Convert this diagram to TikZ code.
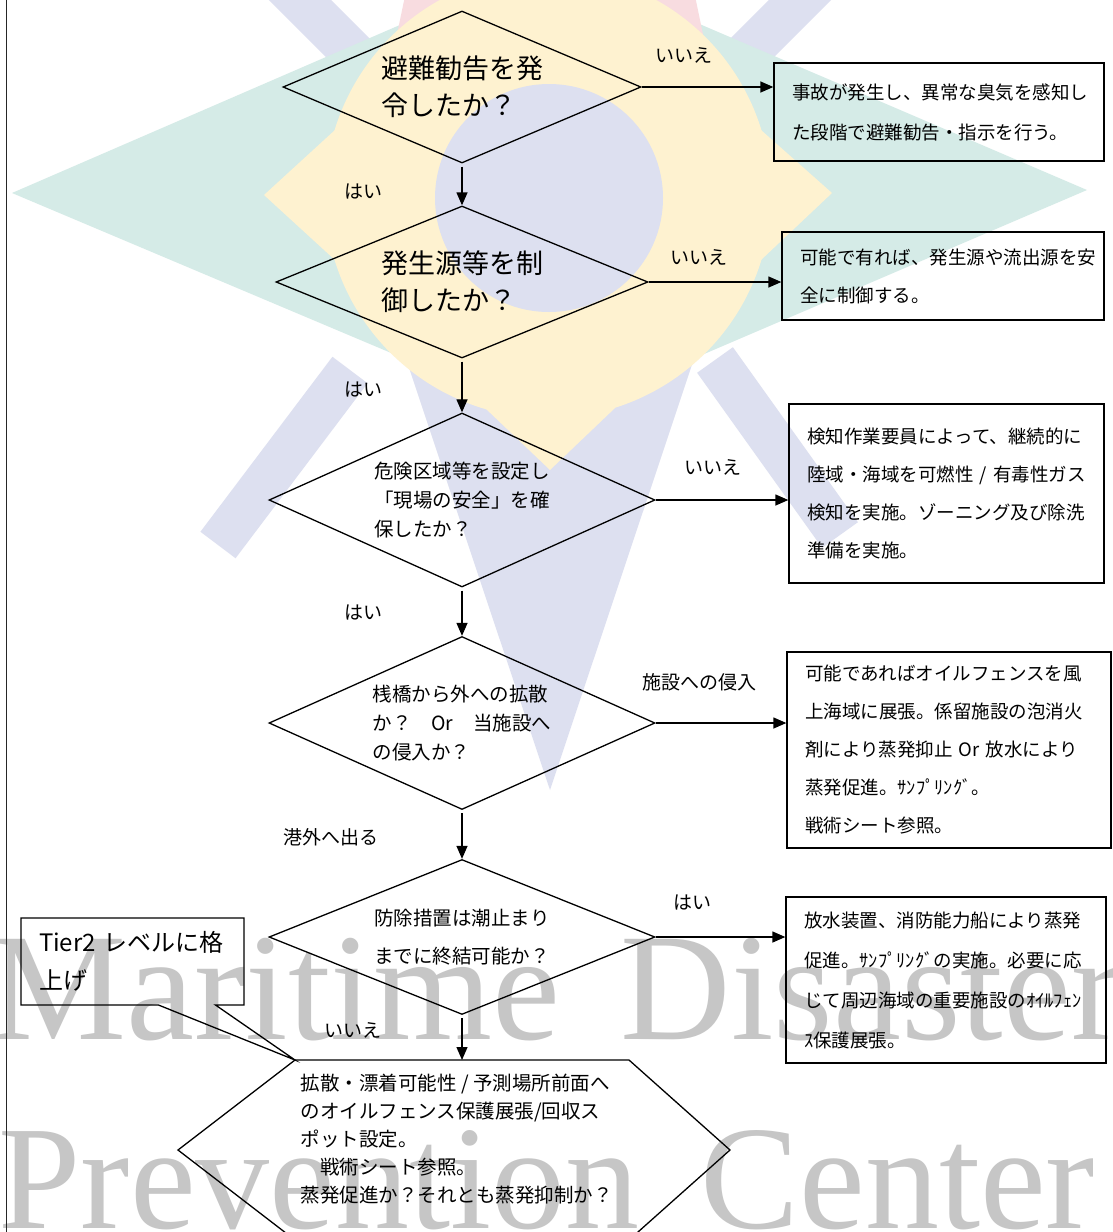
\documentclass[tikz,border=0pt]{standalone}
\usepackage{fontspec}
\setmainfont{Noto Sans CJK JP}
\newfontfamily\wmfont{Liberation Serif}
\usetikzlibrary{arrows.meta}
\usetikzlibrary{shapes.geometric}
\usetikzlibrary{shapes.callouts}
\definecolor{logoteal}{RGB}{213,235,231}
\definecolor{logoblue}{RGB}{221,224,240}
\definecolor{logosun}{RGB}{254,242,208}
\definecolor{logored}{RGB}{248,220,224}
\definecolor{wmgray}{RGB}{198,198,198}
\tikzstyle{decision}=[diamond, draw=black, inner sep=0pt, align=left, font=\fontsize{19.5}{29}\selectfont]
\tikzstyle{action}=[rectangle, draw=black, inner xsep=18pt, inner ysep=0pt, align=left, font=\fontsize{18.5}{38}\selectfont]
\tikzstyle{answer}=[inner sep=0pt, font=\fontsize{19}{19}\selectfont]
\tikzstyle{wm}=[inner sep=0pt, anchor=base west, text=wmgray, font=\wmfont\fontsize{153}{153}\selectfont]
\tikzset{>={Triangle[length=13pt,width=11pt]}}
\hfuzz=40pt

\begin{document}
\begin{tikzpicture}[x=1pt, y=-1pt, line width=1.3pt]
        \useasboundingbox (0,0) rectangle (1112,1232);
        \clip (0,0) rectangle (1112,1232);
        \fill [white] (0,0) rectangle (1112,1232);

        % Logo
        \foreach \xa/\ya/\xb/\yb in {380/80/255/-45, 720/80/845/-45, 350/370/218/545, 715/360/840/535}
          \draw [logoblue, line width=44pt] (\xa,\ya) -- (\xb,\yb);
        \fill [logoteal] (12,193) -- (550,-40) -- (1087,190) -- (550,420) -- cycle;
        \fill [logored] (350,260) -- (550,-700) -- (750,260) -- cycle;
        \fill [logoblue] (353,200) -- (747,200) -- (550,790) -- cycle;
        \fill [logosun] (548,195) circle [radius=223pt];
        \fill [logosun] (264,195) -- (335,130) -- (335,260) -- cycle;
        \fill [logosun] (832,193) -- (761,130) -- (761,260) -- cycle;
        \fill [logosun] (550,470) -- (485,408) -- (615,408) -- cycle;
        \fill [logoblue] (549,198) circle [radius=114pt];

        % Lettering
        \node at (-10, 1039) [wm] (wm_1) {Maritime};
        \node at (620, 1039) [wm] (wm_2) {Disaster};
        \node at (-2, 1228) [wm, font=\wmfont\fontsize{148}{148}\selectfont] (wm_3) {Prevention};
        \node at (700, 1228) [wm, font=\wmfont\fontsize{148}{148}\selectfont] (wm_4) {Center};

        % Frame
        \draw [line width=1.6pt, black!85] (6.5,0) -- (6.5,1232);

        % Questions
        \node at (462, 87) [decision, minimum width=358pt, minimum height=152pt, aspect=2.36,
          font=\fontsize{27}{37}\selectfont] (q_1) {避難勧告を発\\令したか？};
        \node at (462, 282) [decision, minimum width=372pt, minimum height=152pt, aspect=2.45,
          font=\fontsize{27}{37}\selectfont] (q_2) {発生源等を制\\御したか？};
        \node at (462, 500) [decision, minimum width=386pt, minimum height=174pt, aspect=2.22]
          (q_3) {危険区域等を設定し\\「現場の安全」を確\\保したか？};
        \node at (462, 723) [decision, minimum width=386pt, minimum height=173pt, aspect=2.23]
          (q_4) {桟橋から外への拡散\\か？　Or　当施設へ\\の侵入か？};
        \node at (462, 937) [decision, minimum width=386pt, minimum height=155pt, aspect=2.49,
          font=\fontsize{19.5}{38}\selectfont] (q_5) {防除措置は潮止まり\\までに終結可能か？};

        % Last step
        \coordinate (d6_nw) at (295, 1060);
        \coordinate (d6_n) at (462, 1060);
        \coordinate (d6_ne) at (629, 1060);
        \coordinate (d6_e) at (730, 1150);
        \coordinate (d6_se) at (629, 1240);
        \coordinate (d6_sw) at (295, 1240);
        \coordinate (d6_w) at (178, 1150);
        \draw (d6_nw) -- (d6_ne) -- (d6_e) -- (d6_se) -- (d6_sw) -- (d6_w) -- cycle;
        \node at (300, 1139) [anchor=west, inner sep=0pt, align=left, font=\fontsize{19.5}{28}\selectfont]
          (q_6) {拡散・漂着可能性~/~予測場所前面へ\\のオイルフェンス保護展張/回収ス\\ポット設定。\\　戦術シート参照。\\蒸発促進か？それとも蒸発抑制か？};

        % Actions
        \node at (939, 112) [action, minimum width=330pt, minimum height=98pt, text width=294pt,
          font=\fontsize{18.5}{40}\selectfont] (a_1) {事故が発生し、異常な臭気を感知し\\た段階で避難勧告・指示を行う。};
        \node at (943, 276) [action, minimum width=322pt, minimum height=88pt, text width=286pt]
          (a_2) {可能で有れば、発生源や流出源を安\\全に制御する。};
        \node at (946.5, 493.5) [action, minimum width=315pt, minimum height=179pt, text width=279pt]
          (a_3) {検知作業要員によって、継続的に\\陸域・海域を可燃性~/~有毒性ガス\\検知を実施。ゾーニング及び除洗\\準備を実施。};
        \node at (949, 750) [action, minimum width=324pt, minimum height=196pt, text width=288pt]
          (a_4) {可能であればオイルフェンスを風\\上海域に展張。係留施設の泡消火\\剤により蒸発抑止~Or~放水により\\蒸発促進。ｻﾝﾌﾟﾘﾝｸﾞ。\\戦術シート参照。};
        \node at (946, 980) [action, minimum width=320pt, minimum height=166pt, text width=284pt,
          font=\fontsize{18.5}{40}\selectfont] (a_5) {放水装置、消防能力船により蒸発\\促進。ｻﾝﾌﾟﾘﾝｸﾞの実施。必要に応\\じて周辺海域の重要施設のｵｲﾙﾌｪﾝ\\ｽ保護展張。};

        % Escalation note
        \node at (132.5, 961.5) [rectangle callout, draw=black, callout absolute pointer={(d6_nw)},
          callout pointer width=57pt, minimum width=223pt, minimum height=87pt, inner xsep=18pt,
          inner ysep=0pt, text width=187pt, align=left, font=\fontsize{24}{38}\selectfont]
          (tier) {Tier2~レベルに格\\上げ};

        % Answers
        \node at (363, 192) [answer] (yes_1) {はい};
        \node at (684, 55) [answer] (no_1) {いいえ};
        \node at (363, 390) [answer] (yes_2) {はい};
        \node at (699, 257) [answer] (no_2) {いいえ};
        \node at (363, 613) [answer] (yes_3) {はい};
        \node at (713, 467) [answer] (no_3) {いいえ};
        \node at (331, 837) [answer] (out_4) {港外へ出る};
        \node at (699, 682) [answer] (in_4) {施設への侵入};
        \node at (692, 903) [answer] (yes_5) {はい};
        \node at (353, 1030) [answer] (no_5) {いいえ};

        % Connectors
        \foreach \i/\j in {1/2, 2/3, 3/4, 4/5}
          \draw [->, shorten <=3pt] (q_\i) -- (q_\j);
        \draw [->, shorten <=3pt] (q_5) -- (d6_n);

        \foreach \i in {1,...,5}
          \draw [->] (q_\i.east) -- (q_\i.east -| a_\i.west);
      \end{tikzpicture}
\end{document}
